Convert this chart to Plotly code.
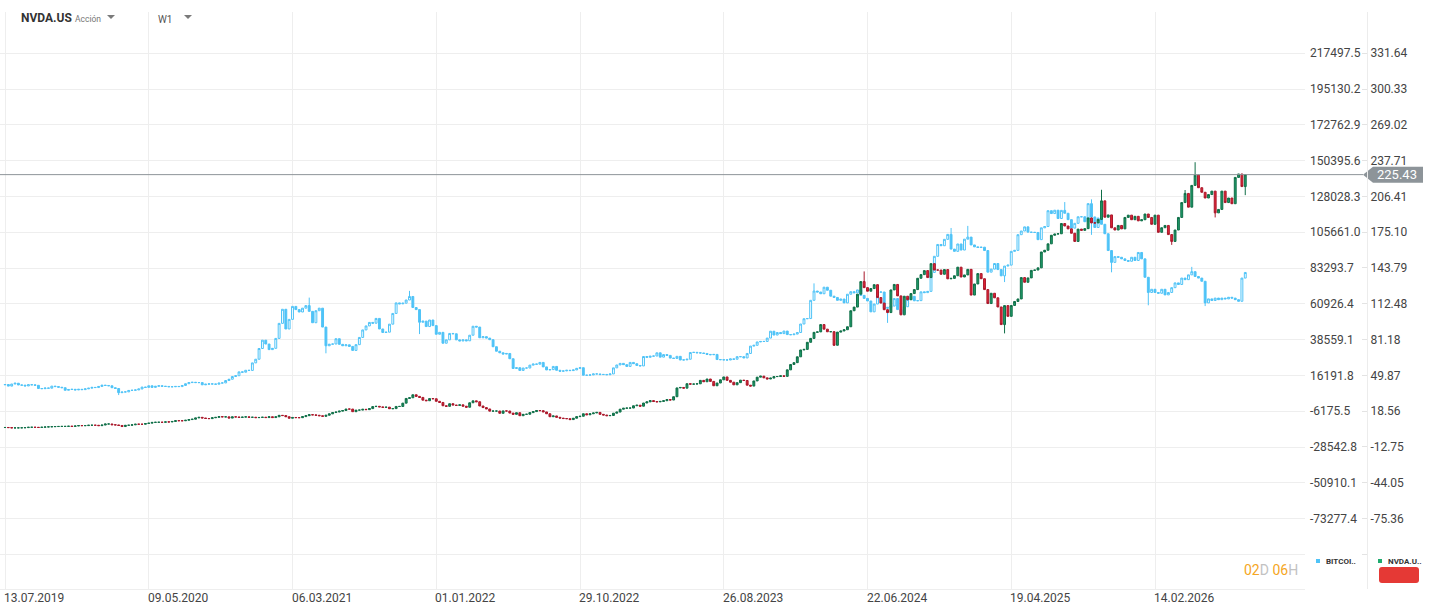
import pandas as pd
import plotly.graph_objects as go

# weekly closes (thousands of USD); the first value is the
# close of the week before the first candle, every candle opens at the previous close
btc_close_k = [
    # 2019
    10.3, 10.5, 9.5, 10.8, 11.3, 10.2, 10.1, 9.6, 10.4, 10.3,
    10.0, 8.0, 7.9, 8.3, 8.2, 9.5, 9.2, 8.8, 8.5, 6.9,
    7.4, 7.5, 7.1, 7.5, 7.3,
    # 2020
    7.8, 8.2, 8.7, 8.6, 9.3, 10.1, 9.9, 9.7, 8.5, 8.0,
    5.4, 5.8, 5.9, 6.8, 6.9, 7.1, 7.7, 8.9, 8.7, 9.7,
    8.7, 9.4, 9.7, 9.4, 9.3, 9.1, 9.1, 9.3, 9.2, 9.9,
    11.0, 11.7, 11.9, 11.7, 11.7, 10.3, 10.7, 10.9, 10.8, 10.7,
    11.4, 11.5, 13.0, 13.8, 15.5, 16.0, 18.4, 18.2, 19.4, 19.3,
    24.0, 26.3,
    # 2021
    33.0, 38.2, 35.8, 32.3, 33.1, 39.3, 48.7, 57.5, 45.2, 51.2,
    59.3, 57.3, 55.8, 58.2, 59.8, 56.2, 49.1, 56.6, 58.2, 46.4,
    34.7, 35.7, 35.8, 39.1, 35.6, 34.7, 35.3, 34.3, 31.8, 35.4,
    39.9, 44.6, 47.1, 49.3, 48.8, 51.8, 45.2, 43.0, 43.2, 48.2,
    54.9, 61.5, 60.9, 61.3, 63.3, 65.5, 58.6, 57.3, 49.4, 50.1,
    46.7, 50.8,
    # 2022
    47.3, 41.9, 43.1, 36.3, 38.4, 42.4, 42.2, 38.4, 37.7, 38.4,
    37.8, 41.3, 46.9, 46.4, 39.7, 40.4, 39.5, 38.5, 34.1, 31.3,
    30.3, 29.5, 29.9, 26.6, 20.5, 21.0, 19.3, 20.8, 20.8, 22.6,
    23.3, 23.2, 24.3, 21.5, 19.6, 19.8, 21.8, 19.4, 18.8, 19.0,
    19.4, 19.2, 19.6, 20.6, 21.0, 16.3, 16.3, 16.5, 17.1, 17.1,
    16.7, 16.8,
    # 2023
    16.6, 17.1, 20.9, 22.7, 23.7, 22.9, 21.8, 24.3, 23.5, 22.4,
    22.1, 28.0, 27.5, 28.2, 28.3, 30.3, 27.6, 29.2, 28.7, 27.0,
    26.8, 28.1, 25.8, 25.9, 26.3, 30.5, 30.6, 30.3, 30.2, 29.9,
    29.3, 29.1, 29.3, 26.1, 26.0, 25.9, 25.8, 26.5, 26.3, 27.9,
    27.9, 27.1, 29.9, 34.5, 35.0, 37.1, 37.4, 37.4, 39.5, 43.8,
    41.4, 43.0, 42.3,
    # 2024
    43.9, 41.7, 41.6, 42.0, 43.0, 48.3, 51.6, 51.7, 63.1, 68.9,
    68.3, 67.2, 71.3, 69.4, 65.7, 64.9, 63.1, 63.9, 61.5, 66.9,
    68.5, 67.8, 69.6, 66.2, 64.3, 62.7, 55.9, 60.8, 68.2, 68.3,
    58.1, 58.7, 59.5, 64.2, 57.3, 54.8, 59.1, 63.6, 65.6, 62.8,
    62.9, 68.4, 67.9, 68.7, 80.5, 90.6, 98.0, 97.2, 101.2, 104.3,
    95.1, 93.7,
    # 2025
    98.3, 94.5, 101.3, 102.6, 97.7, 96.5, 96.1, 96.3, 94.2, 80.7,
    82.6, 86.1, 82.3, 78.4, 84.5, 85.1, 93.7, 94.3, 104.1, 106.4,
    109.0, 105.7, 105.6, 105.5, 101.0, 108.4, 109.2, 119.1, 117.3, 119.4,
    114.2, 119.3, 117.5, 113.5, 108.2, 111.2, 115.3, 115.3, 112.2, 123.5,
    115.2, 108.6, 114.5, 110.6, 104.7, 94.2, 86.8, 90.4,
    # late 2025 - 2026
    90.0, 89.0, 88.0, 87.5, 90.0, 88.0, 93.0, 89.0, 77.5, 68.0,
    70.0, 68.0, 67.5, 70.0, 66.5, 68.0, 71.0, 74.0, 73.0, 77.0,
    76.0, 79.0, 81.0, 78.0, 77.0, 75.0, 61.5, 64.0, 63.0, 64.5,
    63.5, 64.5, 64.0, 65.0, 64.5, 63.5, 62.5, 77.0, 80.5,
]

nvda_close = [
    # 2019
    4.25, 4.30, 4.20, 3.95, 3.97, 4.00, 4.05, 4.18, 4.50, 4.50,
    4.42, 4.30, 4.55, 4.75, 4.85, 5.02, 5.12, 5.20, 5.25, 5.25,
    5.42, 5.25, 5.65, 5.95, 5.92,
    # 2020
    5.95, 6.27, 6.27, 6.25, 5.90, 6.42, 7.37, 7.37, 6.70, 6.52,
    6.05, 5.12, 6.25, 6.27, 6.62, 7.17, 7.15, 7.10, 7.77, 8.10,
    8.72, 8.87, 8.87, 8.82, 9.22, 9.12, 9.57, 10.27, 10.22, 10.17,
    10.62, 11.22, 11.55, 12.67, 13.17, 12.60, 12.15, 12.05, 12.80, 13.15,
    13.82, 13.55, 13.60, 12.52, 13.62, 13.50, 13.07, 13.40, 13.60, 13.17,
    13.27, 12.90,
    # 2021
    13.05, 13.30, 12.97, 13.70, 12.97, 13.65, 14.92, 14.72, 13.70, 12.40,
    13.05, 12.92, 12.87, 13.80, 14.62, 15.50, 15.32, 15.00, 14.55, 14.05,
    15.02, 16.22, 17.37, 17.82, 18.60, 19.15, 20.45, 20.40, 18.10, 19.50,
    19.50, 20.20, 19.90, 20.80, 22.60, 22.80, 22.30, 21.90, 22.10, 20.70,
    20.80, 22.70, 22.70, 25.60, 29.70, 30.30, 32.90, 31.50, 30.60, 28.20,
    27.70, 29.60, 29.40,
    # 2022
    27.20, 26.20, 23.30, 22.80, 25.10, 23.90, 23.60, 24.10, 22.90, 22.00,
    25.90, 27.60, 26.80, 23.10, 21.70, 20.50, 18.60, 18.70, 18.70, 16.70,
    18.80, 18.70, 16.90, 15.80, 17.20, 14.60, 15.80, 15.90, 17.30, 18.20,
    19.10, 19.00, 17.90, 16.30, 13.70, 14.40, 13.20, 12.50, 12.10, 12.00,
    11.20, 12.40, 13.80, 14.10, 16.30, 15.40, 16.30, 17.00, 17.50, 15.80,
    15.20, 14.60,
    # 2023
    14.80, 16.80, 17.80, 20.30, 21.10, 21.30, 21.30, 23.30, 23.80, 22.90,
    25.70, 26.70, 27.80, 27.00, 26.70, 27.10, 27.70, 28.70, 28.30, 31.20,
    38.90, 39.30, 38.70, 42.60, 42.20, 42.30, 42.50, 45.50, 44.30, 46.70,
    44.60, 40.80, 43.20, 46.00, 48.50, 45.50, 43.90, 41.60, 43.50, 45.70,
    45.40, 41.30, 40.50, 45.00, 48.30, 49.20, 47.70, 46.70, 47.50, 48.80,
    48.90, 49.50,
    # 2024
    49.00, 54.70, 59.40, 61.00, 66.10, 72.10, 72.60, 78.80, 82.20, 87.50,
    87.90, 94.30, 90.30, 88.00, 88.10, 76.20, 87.70, 88.70, 89.80, 92.40,
    106.40, 109.60, 120.90, 131.90, 126.60, 123.50, 125.80, 129.20, 117.90, 113.10,
    107.30, 104.80, 124.60, 129.40, 119.40, 102.80, 119.10, 116.00, 121.40, 124.90,
    134.80, 138.00, 141.50, 135.40, 147.60, 142.00, 142.00, 138.30, 142.40, 134.30,
    134.70, 137.00,
    # 2025
    144.50, 135.90, 137.70, 142.60, 120.10, 129.80, 138.90, 134.40, 124.90, 112.70,
    121.70, 117.70, 109.70, 94.30, 110.90, 101.50, 111.00, 114.50, 116.70, 135.40,
    131.30, 135.10, 141.70, 142.00, 143.90, 157.80, 159.30, 164.90, 172.40, 173.50,
    173.70, 182.70, 180.50, 178.00, 174.20, 167.00, 177.80, 176.70, 178.20, 187.60,
    183.20, 183.20, 186.30, 202.50, 188.20, 190.20, 178.90, 177.00,
    # late 2025 - 2026
    181, 178, 188, 190, 186, 189, 185, 186, 191, 188,
    182, 190, 175, 179, 181, 173, 167, 177, 188, 201,
    209, 197, 216, 225, 214, 210, 205, 208, 211, 192,
    195, 211, 201, 205, 200, 223, 226, 215, 225.43,
]

# the longer wicks that stand out on the chart (candle index -> price)
btc_high_k = {91: 64.8, 121: 69.0, 242: 73.7, 283: 108.3, 288: 109.6,
              317: 124.5, 325: 126.2, 355: 84.0}
btc_low_k = {34: 3.9, 96: 30.0, 124: 42.0, 264: 49.0, 299: 74.5,
             325: 104.0, 331: 80.6, 342: 60.0, 359: 59.5}
nvda_high = {257: 140.8, 328: 212.2, 356: 236.3, 353: 212.0}
nvda_low = {248: 75.6, 299: 86.6, 349: 164.0, 371: 207.5, 362: 188.0}

assert len(btc_close_k) == len(nvda_close), (len(btc_close_k), len(nvda_close))

btc_ticks = [217497.5, 195130.2, 172762.9, 150395.6, 128028.3, 105661.0, 83293.7,
             60926.4, 38559.1, 16191.8, -6175.5, -28542.8, -50910.1, -73277.4, -95644.7]
nvda_ticks = [331.64, 300.33, 269.02, 237.71, 206.41, 175.10, 143.79, 112.48,
              81.18, 49.87, 18.56, -12.75, -44.05, -75.36, -106.67]
date_ticks = ["2019-07-13", "2020-05-09", "2021-03-06", "2022-01-01", "2022-10-29",
              "2023-08-26", "2024-06-22", "2025-04-19", "2026-02-14"]
date_labels = ["13.07.2019", "09.05.2020", "06.03.2021", "01.01.2022", "29.10.2022",
               "26.08.2023", "22.06.2024", "19.04.2025", "14.02.2026"]
last_price = 225.43

W, H = 1434, 615
TOP, BOTTOM = 12, 589  # plot area in pixels


def px(x):
    return x / W


def py(y):
    return (BOTTOM - y) / (BOTTOM - TOP)


def ohlc(closes, highs, lows, scale=1.0):
    o = [v * scale for v in closes[:-1]]
    c = [v * scale for v in closes[1:]]
    h = [max(a, b, highs.get(i, 0) * scale) for i, (a, b) in enumerate(zip(o, c))]
    l = [min(a, b, lows.get(i, 1e12) * scale) for i, (a, b) in enumerate(zip(o, c))]
    return o, h, l, c


def label(x, y, text, size, color, anchor="left", bold=False):
    fig.add_annotation(x=px(x), y=py(y), xref="paper", yref="paper",
                       text=f"<b>{text}</b>" if bold else text, showarrow=False,
                       xanchor=anchor, yanchor="middle",
                       font=dict(family="Roboto", size=size, color=color))


start = pd.Timestamp("2019-07-13")
weeks = pd.date_range(start, periods=len(nvda_close) - 1, freq="7D")

btc_o, btc_h, btc_l, btc_c = ohlc(btc_close_k, btc_high_k, btc_low_k, 1000)
nv_o, nv_h, nv_l, nv_c = ohlc(nvda_close, nvda_high, nvda_low)

# pixel geometry of the reference
px_week = (1155 - 5) / 344
x_lo = start - pd.Timedelta(days=7 * 5 / px_week)
x_hi = start + pd.Timedelta(days=7 * (1305 - 5) / px_week)

grid_px = 35.8
btc_per_px = 22367.3 / grid_px
nv_per_px = 31.31 / grid_px
btc_range = [217497.5 - (BOTTOM - 53.2) * btc_per_px, 217497.5 + (53.2 - TOP) * btc_per_px]
nv_range = [331.64 - (BOTTOM - 53.2) * nv_per_px, 331.64 + (53.2 - TOP) * nv_per_px]

BLUE = "#4fc3f7"

fig = go.Figure()

fig.add_trace(go.Candlestick(
    x=weeks, open=btc_o, high=btc_h, low=btc_l, close=btc_c,
    increasing=dict(line=dict(color=BLUE, width=1), fillcolor="white"),
    decreasing=dict(line=dict(color=BLUE, width=1), fillcolor=BLUE),
    whiskerwidth=0, name="BITCOIN", yaxis="y", showlegend=False,
))

fig.add_trace(go.Candlestick(
    x=weeks, open=nv_o, high=nv_h, low=nv_l, close=nv_c,
    increasing=dict(line=dict(color="#0f6e47", width=1), fillcolor="#1f9d6b"),
    decreasing=dict(line=dict(color="#a8172a", width=1), fillcolor="#e32636"),
    whiskerwidth=0, name="NVDA.US", yaxis="y2", showlegend=False,
))

# current price line and its tag
fig.add_shape(type="line", xref="paper", yref="y2", x0=0, x1=px(1363),
              y0=last_price, y1=last_price, line=dict(color="#8d9499", width=1),
              layer="above")
half = 8 * nv_per_px
fig.add_shape(type="path", xref="paper", yref="y2", layer="below",
              path=(f"M {px(1363)} {last_price} L {px(1373)} {last_price + half} "
                    f"L {px(1423)} {last_price + half} L {px(1423)} {last_price - half} "
                    f"L {px(1373)} {last_price - half} Z"),
              fillcolor="#8d9499", line=dict(width=0))
fig.add_annotation(x=px(1375), y=last_price, xref="paper", yref="y2",
                   text=f"{last_price:.2f}", showarrow=False, xanchor="left", yanchor="middle",
                   font=dict(family="Roboto", size=13, color="white"))

# date labels, left aligned on the grid lines
for d, lab in zip(date_ticks, date_labels):
    fig.add_annotation(x=d, y=py(598), xref="x", yref="paper", text=lab,
                       showarrow=False, xanchor="left", yanchor="middle", xshift=-3,
                       font=dict(family="Roboto", size=12, color="#444"))

# header
label(19, 18, "NVDA.US", 12, "#333", bold=True)
label(73, 19, "Acción", 8.5, "#777")
label(156, 20, "W1", 10, "#555")
for tx in (111, 188):
    fig.add_shape(type="path", xref="paper", yref="paper",
                  path=f"M {px(tx - 4)} {py(15)} L {px(tx + 4)} {py(15)} L {px(tx)} {py(19)} Z",
                  fillcolor="#7a7a7a", line=dict(width=0))

# countdown
label(1300, 570, ("<span style='color:#f5a623'>02</span><span style='color:#c2c2c2'>D</span> "
                  "<span style='color:#f5a623'>06</span><span style='color:#c2c2c2'>H</span>"),
      14, "#c2c2c2", anchor="right")

# legend chips
for sx, col, lab in ((1316, BLUE, "BITCOI.."), (1378, "#1fab6f", "NVDA.U..")):
    fig.add_shape(type="rect", xref="paper", yref="paper", x0=px(sx), x1=px(sx + 4),
                  y0=py(563), y1=py(559), fillcolor=col, line=dict(width=0))
    label(sx + 8, 561, lab, 8, "#333", bold=True)
r = 3
x0, x1, y0, y1 = 1379, 1419, 567, 583
fig.add_shape(type="path", xref="paper", yref="paper", fillcolor="#e53935", line=dict(width=0),
              path=(f"M {px(x0 + r)} {py(y0)} L {px(x1 - r)} {py(y0)} Q {px(x1)} {py(y0)} {px(x1)} {py(y0 + r)} "
                    f"L {px(x1)} {py(y1 - r)} Q {px(x1)} {py(y1)} {px(x1 - r)} {py(y1)} "
                    f"L {px(x0 + r)} {py(y1)} Q {px(x0)} {py(y1)} {px(x0)} {py(y1 - r)} "
                    f"L {px(x0)} {py(y0 + r)} Q {px(x0)} {py(y0)} {px(x0 + r)} {py(y0)} Z"))

GRID = "#eeeeee"
fig.update_layout(
    width=W, height=H,
    margin=dict(l=0, r=0, t=TOP, b=H - BOTTOM),
    paper_bgcolor="white", plot_bgcolor="white",
    font=dict(family="Roboto", size=12, color="#444"),
    showlegend=False, boxgap=0.2,
    xaxis=dict(
        type="date", domain=[0, px(1305)], range=[x_lo, x_hi],
        rangeslider=dict(visible=False),
        tickvals=date_ticks, showticklabels=False, ticks="",
        showgrid=True, gridcolor=GRID, gridwidth=1,
        showline=True, linecolor=GRID, mirror=False, zeroline=False,
    ),
    yaxis=dict(
        side="right", range=btc_range, tickvals=btc_ticks,
        ticktext=[f"{v:.1f}" for v in btc_ticks[:-1]] + [""],
        showgrid=True, gridcolor=GRID, zeroline=False, ticks="",
        ticklabelstandoff=4, tickfont=dict(family="Roboto", size=12, color="#444"),
    ),
    yaxis2=dict(
        side="right", overlaying="y", anchor="free", position=px(1367),
        range=nv_range, tickvals=nvda_ticks,
        ticktext=[f"{v:.2f}" for v in nvda_ticks[:-1]] + [""],
        showgrid=False, zeroline=False, ticks="inside", ticklen=5, tickcolor="#e3e3e3",
        showline=True, linecolor="#ececec",
        tickfont=dict(family="Roboto", size=12, color="#444"),
    ),
)

# the page's default body margin would push the figure 8px right and down
fig.write_html("out.html", config={"displayModeBar": False},
               post_script="document.body.style.margin='0';")
